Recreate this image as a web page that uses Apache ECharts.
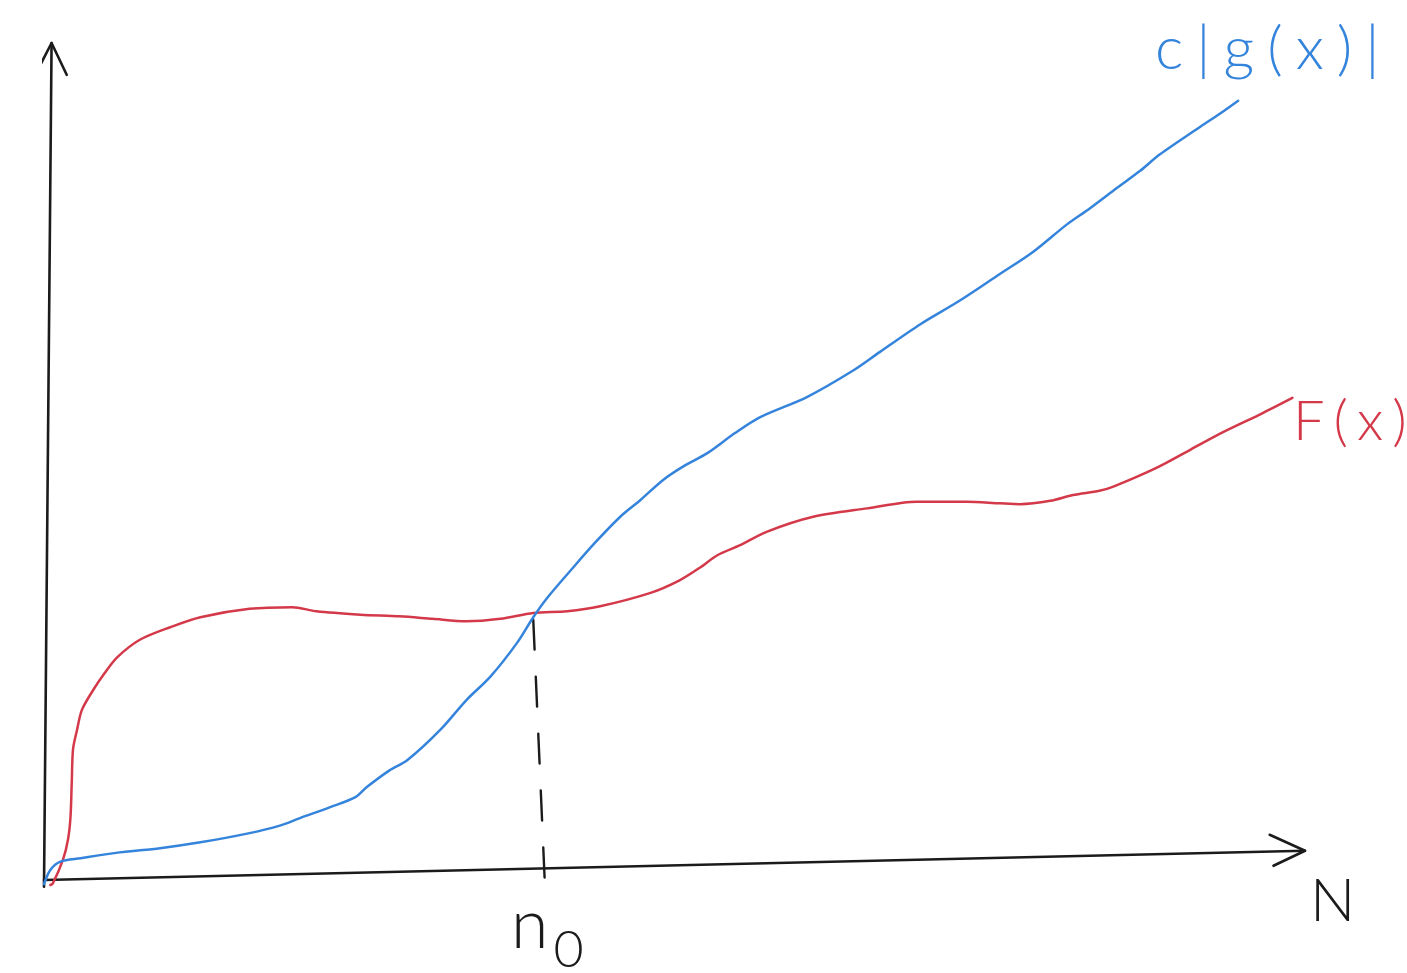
<!DOCTYPE html>
<html>
<head>
<meta charset="utf-8">
<script src="https://cdn.jsdelivr.net/npm/echarts@6/dist/echarts.min.js"></script>
<style>html,body{margin:0;padding:0;background:#fff}#c{width:1407px;height:973px}</style>
</head>
<body>
<div id="c"></div>
<script>
// Sketch units: N along the horizontal axis (0..100), value along the vertical axis (0..100)
const cgCurve = [
  [0,-0.5],[0.5,1.2],[1.3,2.2],[2.9,2.6],[6.0,3.3],[9.2,3.8],[12.4,4.5],[16.3,5.6],[18.7,6.5],
  [20.3,7.4],[22.7,8.7],[24.7,9.9],[25.6,11.1],[27.4,13.1],[28.8,14.3],[31.4,17.9],[33.5,21.5],
  [35.4,24.3],[37.5,28.3],[38.8,31.4],[39.9,33.7],[42.0,37.4],[43.7,40.3],[45.7,43.4],[47.3,45.4],
  [49.1,47.8],[50.8,49.5],[52.6,51.0],[54.8,53.4],[56.8,55.3],[60.5,57.7],[64.2,60.9],[66.3,63.1],
  [69.5,66.4],[72.6,69.2],[75.8,72.4],[78.4,75.0],[81.1,78.3],[82.9,80.2],[85.1,82.7],[86.9,84.7],
  [88.5,86.7],[91.7,90.0],[93.3,91.6],[94.7,93.1]
];
const fCurve = [
  [0.5,-0.6],[0.7,-0.4],[1.5,2.4],[1.9,4.8],[2.1,7.5],[2.2,11.6],[2.3,15.6],[2.6,17.8],[3.0,20.3],
  [3.9,22.7],[4.8,24.7],[5.8,26.6],[7.6,28.7],[10.0,30.2],[12.4,31.4],[16.3,32.4],[19.7,32.6],
  [21.6,32.1],[25.1,31.7],[28.2,31.5],[30.8,31.2],[33.5,30.9],[36.2,31.2],[38.8,31.9],[41.5,32.1],
  [44.1,32.7],[48.1,34.3],[50.4,35.8],[52.0,37.3],[53.4,38.8],[55.2,40.0],[57.3,41.6],[61.0,43.4],
  [65.3,44.4],[69.2,45.2],[73.2,45.2],[75.8,45.0],[77.4,44.9],[79.8,45.3],[81.6,46.0],[83.7,46.5],
  [84.8,47.0],[88.3,49.3],[90.9,51.4],[93.5,53.5],[96.4,55.6],[99.0,57.6]
];
const xAxisStroke = [[0,0],[100,3.5]];
const xArrowHead = [[97.2,5.4],[100,3.5],[97.5,1.7]];
const yAxisStroke = [[0,-0.8],[0.6,100]];
const yArrowHead = [[-0.7,96.2],[0.6,100],[1.8,96.2]];
const n0Guide = [[38.8,31.1],[39.7,0.2]];
const labels = { cg: 'c|g(x)|', f: 'F(x)', n: 'N', n0: 'n', n0sub: '0' };

const BLUE = '#3584dc', RED = '#d4394a', INK = '#1b1b1b';
const FONT = 'Lato, "Open Sans", "DejaVu Sans", sans-serif';

function lineSeries(data, color, width, extra) {
  return Object.assign({
    type: 'line', data: data, symbol: 'none', clip: false, silent: true,
    lineStyle: { color: color, width: width, cap: 'round', join: 'round' }
  }, extra || {});
}
// hand-lettered look: loosely spaced characters
function spaced(str) {
  return str.split('').map(ch => '{s|' + ch + '}').join('');
}

const chart = echarts.init(document.getElementById('c'), null, { renderer: 'canvas' });
chart.setOption({
  animation: false,
  backgroundColor: '#ffffff',
  grid: { left: 44, right: 102, top: 43, bottom: 93 },
  xAxis: { type: 'value', min: 0, max: 100, show: false },
  yAxis: { type: 'value', min: 0, max: 100, show: false },
  series: [
    lineSeries(xAxisStroke, INK, 2.6),
    lineSeries(xArrowHead, INK, 2.6),
    lineSeries(yAxisStroke, INK, 2.6),
    lineSeries(yArrowHead, INK, 2.6),
    lineSeries(n0Guide, INK, 2.4, { lineStyle: { color: INK, width: 2.4, type: [30, 27], cap: 'round' } }),
    lineSeries(fCurve, RED, 2.5, { smooth: 0.3 }),
    lineSeries(cgCurve, BLUE, 2.5, { smooth: 0.3 })
  ],
  graphic: [
    { type: 'text', left: 1155, top: 20, style: {
        text: spaced(labels.cg),
        rich: { s: { font: '300 60px ' + FONT, fill: BLUE, padding: [0, 6.5] } }
    } },
    { type: 'text', left: 1293, top: 394, style: {
        text: spaced(labels.f),
        rich: { s: { font: '300 56px ' + FONT, fill: RED, padding: [0, 4.5] } }
    } },
    { type: 'text', left: 1310, top: 872, style: { text: labels.n, font: '300 60px ' + FONT, fill: INK } },
    { type: 'text', left: 511, top: 892, style: {
        text: '{a|' + labels.n0 + '}{b|' + labels.n0sub + '}',
        rich: {
          a: { font: '300 68px ' + FONT, fill: INK, lineHeight: 84, verticalAlign: 'top', padding: [0, 5, 0, 0] },
          b: { font: '300 52px ' + FONT, fill: INK, lineHeight: 84, verticalAlign: 'bottom' }
        }
    } }
  ]
});
</script>
</body>
</html>
